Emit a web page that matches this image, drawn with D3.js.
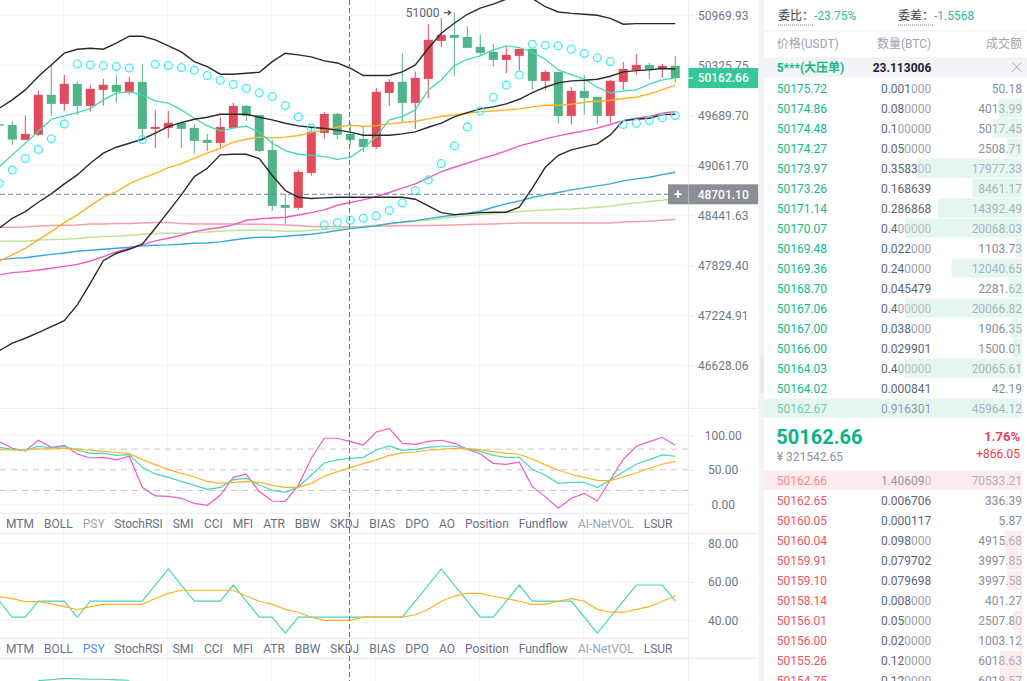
<!DOCTYPE html>
<html><head><meta charset="utf-8">
<script src="https://cdn.jsdelivr.net/npm/d3@7/dist/d3.min.js"></script>
<style>
html,body{margin:0;padding:0;background:#fff;overflow:hidden}
svg{display:block;font-family:Roboto,"Noto Sans CJK SC",sans-serif}
</style></head><body><svg id="c" width="1027" height="681"></svg>
<script>
// ---------- candles ----------
const open  =[49577,49568,49380,49443,49949,49834,50089,49809,50012,50076,49987,50114,49518,49531,49594,49531,49380,49342,49531,49809,49694,49254,48570,48533,48967,49468,49707,49455,49393,49292,49974,50114,49847,50152,50639,50717,50691,50562,50498,50395,50447,50536,50127,50241,49682,49999,49923,49682,50114,50267,50330,50279,50318];
const high  =[49585,49619,49686,49999,50343,50203,50118,50076,50152,50203,50178,50343,49754,49745,49615,49577,49455,49669,49847,49821,49694,49380,48703,49004,49527,49733,49720,49594,49548,50033,50152,50481,50245,50858,50936,51004,50828,50721,50600,50566,50536,50536,50262,50241,50046,50203,49923,50140,50369,50472,50356,50343,50447];
const low   =[49552,49317,49380,49430,49686,49745,49694,49733,49813,49851,49953,49401,49279,49401,49275,49204,49241,49279,49527,49619,49229,48496,48323,48508,48930,49397,49388,49313,49225,49262,49809,49602,49518,49906,50558,50186,50549,50459,50309,50224,50267,50012,50012,49589,49573,49694,49581,49598,50012,50203,50152,50165,50106];
const close =[49560,49384,49455,49949,49834,50089,49809,50025,50076,49987,50114,49518,49543,49594,49518,49367,49342,49543,49809,49682,49241,48558,48533,48979,49481,49707,49443,49380,49292,49987,50114,49847,50165,50652,50717,50678,50549,50485,50395,50459,50536,50127,50241,49682,49999,49910,49682,50127,50279,50330,50267,50318,50162.66];
// ---------- overlays ----------
const bollUp =[49779,49885,50012,50182,50330,50481,50532,50545,50532,50609,50699,50699,50652,50575,50498,50373,50309,50212,50212,50224,50237,50373,50481,50459,50433,50382,50356,50288,50195,50195,50195,50241,50330,50545,50738,50867,50983,51064,51116,51180,51231,51188,51081,51013,50995,50983,50970,50931,50854,50862,50862,50862,50862];
const bollMid=[48282,48405,48487,48603,48706,48830,48942,49087,49213,49288,49338,49388,49464,49548,49598,49640,49665,49703,49703,49703,49665,49632,49590,49556,49539,49523,49502,49477,49439,49439,49439,49456,49481,49539,49590,49669,49724,49771,49796,49834,49893,49978,50046,50101,50127,50135,50148,50186,50241,50258,50267,50284,50279];
const bollLow=[46803,46891,46950,47018,47090,47161,47350,47611,47886,47976,48025,48086,48282,48487,48694,48921,49024,49192,49200,49200,49146,48934,48748,48665,48649,48657,48665,48665,48665,48665,48665,48665,48640,48558,48475,48450,48459,48475,48479,48479,48541,48777,49037,49187,49254,49292,49330,49443,49623,49640,49653,49698,49703];
const maTeal =[49045,49192,49338,49485,49640,49682,49724,49775,49885,49970,49987,49949,49872,49843,49758,49653,49556,49493,49527,49552,49477,49338,49246,49200,49187,49171,49137,49162,49275,49422,49632,49674,49758,50012,50139,50322,50403,50446,50523,50575,50554,50493,50403,50267,50207,50148,50046,49974,49995,50012,50084,50139,50165];
const maOrange=[47882,47955,48037,48139,48241,48352,48446,48558,48665,48735,48830,48901,48962,49033,49079,49150,49213,49275,49351,49388,49414,49405,49414,49435,49472,49506,49539,49565,49548,49560,49581,49598,49615,49644,49678,49694,49715,49733,49745,49758,49771,49796,49817,49817,49830,49855,49868,49881,49902,49919,49961,50012,50072];
const maPink =[47712,47740,47752,47773,47793,47817,47841,47882,47935,47992,48037,48078,48127,48160,48196,48241,48270,48291,48323,48380,48397,48409,48417,48446,48475,48508,48566,48599,48632,48673,48723,48777,48830,48905,48983,49037,49087,49141,49187,49242,49305,49347,49393,49430,49464,49493,49527,49573,49623,49653,49674,49715,49737];
const maBlue =[47894,47914,47922,47943,47963,47980,48000,48012,48025,48037,48049,48066,48074,48078,48086,48098,48102,48115,48139,48160,48172,48172,48184,48196,48209,48229,48254,48278,48295,48311,48340,48360,48376,48401,48426,48446,48467,48492,48541,48582,48620,48661,48694,48723,48756,48781,48805,48830,48867,48892,48913,48946,48975];
const maLime =[48123,48123,48123,48139,48143,48147,48156,48172,48180,48184,48196,48209,48217,48221,48221,48233,48237,48246,48254,48258,48258,48254,48246,48246,48258,48266,48282,48291,48303,48323,48336,48352,48368,48385,48405,48421,48438,48450,48463,48475,48487,48500,48508,48516,48520,48529,48541,48553,48578,48595,48611,48628,48649];
const maRed  =[48295,48295,48299,48311,48315,48319,48323,48336,48336,48340,48340,48348,48352,48352,48340,48336,48336,48336,48336,48331,48331,48327,48323,48315,48303,48303,48303,48299,48303,48307,48311,48315,48315,48315,48319,48323,48327,48331,48336,48340,48348,48348,48348,48348,48348,48348,48348,48348,48360,48364,48368,48380,48389];
const sar    =[48839,49004,49146,49259,49393,49581,50343,50330,50322,50309,50292,49384,50339,50322,50296,50262,50195,50135,50080,50029,49974,49927,49813,49669,49531,48323,48352,48380,48405,48434,48500,48595,48744,48880,49083,49305,49543,49745,49919,50072,50203,50596,50584,50575,50532,50476,50421,50373,49573,49590,49623,49657,49686];
const lastPrice=50162.66, crossPrice=48701.10, crossIndex=27;
const priceTicks=[50969.93,50325.75,49689.70,49061.70,48441.63,47829.40,47224.91,46628.06];
const priceTickLabels=["50969.93","50325.75","49689.70","49061.70","48441.63","47829.40","47224.91","46628.06"];
// ---------- KDJ-like panel ----------
const kLine=[82.6,79.7,77.8,84.1,81.6,83.6,78.7,73.9,73.9,71.0,72.0,53.6,44.0,39.1,33.3,27.5,21.7,24.6,35.7,37.7,28.0,20.3,17.4,25.1,42.5,59.9,64.3,66.7,68.1,78.7,84.5,78.3,79.7,82.6,84.1,84.1,80.2,76.8,71.0,68.1,68.1,50.7,42.0,30.4,31.9,31.9,24.2,35.3,47.3,58.0,64.7,71.5,69.6];
const dLine=[79.2,78.7,78.7,80.2,80.2,81.2,80.2,78.3,76.8,75.4,73.4,64.7,57.5,50.7,44.9,39.6,33.3,30.4,31.9,33.3,31.9,27.5,24.6,24.6,30.4,40.6,47.3,53.1,58.9,64.3,71.0,74.4,75.8,78.7,79.7,81.2,80.7,79.2,76.3,73.9,72.5,65.2,57.5,49.3,43.5,39.1,34.8,34.3,39.6,45.4,52.2,58.0,62.3];
const jLine=[90.8,81.2,77.3,92.8,82.6,85.5,72.9,67.1,68.1,64.3,69.6,24.6,12.1,11.6,8.7,1.4,-1.4,13.0,39.1,43.5,18.4,4.8,4.3,27.5,66.7,95.7,95.7,90.8,86.0,104.8,110.1,88.4,87.0,91.3,92.8,88.4,79.7,72.9,59.4,58.0,60.9,25.6,11.1,-5.8,8.7,15.9,4.8,35.3,65.2,84.1,90.8,97.1,85.5];
const kdjTicks=[100,50,0], kdjLevels=[80,50,20];
// ---------- PSY panel ----------
const psyLine=[50,41.67,41.67,50,50,50,41.67,50,50,50,50,50,58.33,66.67,58.33,50,50,50,58.33,50,41.67,41.67,33.33,41.67,41.67,41.67,41.67,41.67,41.67,41.67,41.67,41.67,50,58.33,66.67,58.33,50,41.67,41.67,50,58.33,50,50,50,50,41.67,33.33,41.67,50,58.33,58.33,58.33,50];
const psyMa=[52.3,51.3,49.7,49.7,48.5,47.1,45.5,47.1,48.3,48.3,48.3,48.3,51.3,54.0,55.6,55.6,55.6,55.6,55.6,52.6,49.9,48.3,45.7,44.2,41.6,40,40,40,41.6,41.6,41.6,41.6,42.9,45.7,49.9,52.6,54.0,54.0,52.5,51.3,49.9,48.3,48.3,49.9,51.3,49.9,45.7,44.2,44.2,45.7,47.1,49.9,52.6];
const psyTicks=[80,60,40];
const thirdIdx=[3,4,5,6,7,8,9,10], thirdLine=[73.6,74.1,74.8,74.5,74.3,74.3,74.0,73.8];
// ---------- tabs ----------
const tabNames=["MTM","BOLL","PSY","StochRSI","SMI","CCI","MFI","ATR","BBW","SKDJ","BIAS","DPO","AO","Position","Fundflow","AI-NetVOL","LSUR"];
const tabLeft=[6,44,82.7,114.3,172.7,204,232.7,263.3,294.7,330,369.3,405.3,439,465,518.7,578,643.7];
// ---------- order book ----------
const bidPrice=["50175.72","50174.86","50174.48","50174.27","50173.97","50173.26","50171.14","50170.07","50169.48","50169.36","50168.70","50167.06","50167.00","50166.00","50164.03","50164.02","50162.67"];
const bidQty=["0.001000","0.080000","0.100000","0.050000","0.358300","0.168639","0.286868","0.400000","0.022000","0.240000","0.045479","0.400000","0.038000","0.029901","0.400000","0.000841","0.916301"];
const bidAmt=["50.18","4013.99","5017.45","2508.71","17977.33","8461.17","14392.49","20068.03","1103.73","12040.65","2281.62","20066.82","1906.35","1500.01","20065.61","42.19","45964.12"];
const askPrice=["50162.66","50162.65","50160.05","50160.04","50159.91","50159.10","50158.14","50156.01","50156.00","50155.26","50154.75"];
const askQty=["1.406090","0.006706","0.000117","0.098000","0.079702","0.079698","0.008000","0.050000","0.020000","0.120000","0.120000"];
const askAmt=["70533.21","336.39","5.87","4915.68","3997.85","3997.58","401.27","2507.80","1003.12","6018.63","6018.57"];

const svg=d3.select("#c");
const defs=svg.append("defs");
defs.append("clipPath").attr("id","cMain").append("rect").attr("x",0).attr("y",0).attr("width",688).attr("height",408);
defs.append("clipPath").attr("id","cAll").append("rect").attr("x",0).attr("y",0).attr("width",688).attr("height",681);

const n=open.length, idx=d3.range(n);
const x=d3.scaleLinear().domain([0,52]).range([-0.7,675.3]);
const y=d3.scaleLog().domain([46628.06,50969.93]).range([365.3,15.3]);
const y1=d3.scaleLinear().domain([0,100]).range([504.3,435.3]);
const y2=d3.scaleLinear().domain([40,80]).range([620.3,543.3]);
const y3=d3.scaleLinear().domain([40,80]).range([745.3,668.3]);

const C={grid:"#f3f4f7",border:"#e6e8ee",axisText:"#707787",up:"#e24b5c",down:"#50b488",teal:"#45d8b6",orange:"#fdb225",black:"#2a2a2a",pink:"#ec5cc0",blue:"#38a9de",lime:"#bce498",salmon:"#f7a0a0",cyan:"#3df0f6",cross:"#68707c"};

// grids
const grid=svg.append("g");
grid.selectAll(".v").data(idx.filter(i=>i%8===5)).join("line")
  .attr("x1",i=>x(i)-0.8).attr("x2",i=>x(i)-0.8).attr("y1",0).attr("y2",681).attr("stroke",C.grid);
grid.selectAll(".h").data(priceTicks).join("line").attr("class","h")
  .attr("x1",0).attr("x2",688).attr("y1",d=>y(d)).attr("y2",d=>y(d)).attr("stroke",C.grid);
grid.selectAll(".h1").data([100,0]).join("line").attr("class","h1")
  .attr("x1",0).attr("x2",688).attr("y1",d=>y1(d)).attr("y2",d=>y1(d)).attr("stroke",C.grid);
grid.selectAll(".h2").data(psyTicks).join("line").attr("class","h2")
  .attr("x1",0).attr("x2",688).attr("y1",d=>y2(d)).attr("y2",d=>y2(d)).attr("stroke",C.grid);

// candles
const main=svg.append("g").attr("clip-path","url(#cMain)");
const col=i=>close[i]>=open[i]?C.up:C.down;
main.selectAll(".wick").data(idx).join("line").attr("class","wick")
  .attr("x1",i=>x(i)).attr("x2",i=>x(i)).attr("y1",i=>y(high[i])).attr("y2",i=>y(low[i])).attr("stroke",col).attr("stroke-width",1);
main.selectAll(".body").data(idx).join("rect").attr("class","body")
  .attr("x",i=>x(i)-4.5).attr("width",9)
  .attr("y",i=>y(Math.max(open[i],close[i])))
  .attr("height",i=>Math.max(1,Math.abs(y(open[i])-y(close[i])))).attr("fill",col);

// overlays
const lineOf=(ys,sc)=>d3.line().x((d,i)=>x(i)).y(d=>sc(d))(ys);
[[maRed,C.salmon,1.5],[maLime,C.lime,1.5],[maBlue,C.blue,1.4],[maPink,C.pink,1.4],[maOrange,C.orange,1.4],[maTeal,C.teal,1.3],[bollUp,C.black,1.4],[bollMid,C.black,1.4],[bollLow,C.black,1.4]]
.forEach(([d,c,w])=>main.append("path").attr("d",lineOf(d,y)).attr("fill","none").attr("stroke",c).attr("stroke-width",w));
main.selectAll(".sar").data(sar).join("circle").attr("class","sar")
  .attr("cx",(d,i)=>x(i)).attr("cy",d=>y(d)).attr("r",3.9).attr("fill","none").attr("stroke",C.cyan).attr("stroke-width",1.3);

// annotation
svg.append("text").attr("x",405.7).attr("y",17).attr("font-size",12).attr("fill","#5b6270").text("51000");
svg.append("path").attr("d","M443.7,12.8H450.6M447.8,10.4L450.6,12.8L447.8,15.2").attr("fill","none").attr("stroke","#3c4048").attr("stroke-width",1.1);

// panel 1
const p=svg.append("g").attr("clip-path","url(#cAll)");
p.selectAll(".lvl").data(kdjLevels).join("line").attr("class","lvl")
  .attr("x1",0).attr("x2",688).attr("y1",d=>y1(d)).attr("y2",d=>y1(d)).attr("stroke","#c6c6c6").attr("stroke-dasharray","6,5");
[[jLine,C.pink],[kLine,C.teal],[dLine,C.orange]].forEach(([d,c])=>p.append("path").attr("d",lineOf(d,y1)).attr("fill","none").attr("stroke",c).attr("stroke-width",1.2));
// panel 2
[[psyLine,C.teal],[psyMa,C.orange]].forEach(([d,c])=>p.append("path").attr("d",lineOf(d,y2)).attr("fill","none").attr("stroke",c).attr("stroke-width",1.2));
// panel 3
p.append("path").attr("d",d3.line().x((d,i)=>x(thirdIdx[i])).y(d=>y3(d))(thirdLine)).attr("fill","none").attr("stroke",C.teal).attr("stroke-width",1.2);

// borders
[[408.3,758],[513.3,688],[533.3,758],[638.3,688],[658.3,758]].forEach(([yy,xe])=>svg.append("line").attr("x1",0).attr("x2",xe).attr("y1",yy).attr("y2",yy).attr("stroke",C.border));
svg.append("line").attr("x1",688.4).attr("x2",688.4).attr("y1",0).attr("y2",681).attr("stroke",C.border);

// tabs
[[523.7,"#9ea4b0"],[648.7,"#4c8ef7"]].forEach(([yy,psyCol])=>{
  svg.append("g").selectAll("text").data(tabNames).join("text")
    .attr("x",(d,i)=>tabLeft[i]).attr("y",yy+4.2).attr("font-size",12)
    .attr("fill",d=>d==="PSY"?psyCol:(d==="AI-NetVOL"?"#9ea4b0":"#69707f")).text(d=>d);
});

// axes
function axis(sc,vals,fmt){
  const g=svg.append("g").attr("transform","translate(688.4,0)").call(d3.axisRight(sc).tickValues(vals).tickFormat(fmt).tickSize(5).tickPadding(0));
  g.select(".domain").remove();
  g.selectAll("line").attr("stroke",C.border);
  g.selectAll("text").attr("x",34.8).attr("text-anchor","middle").attr("font-size",12).attr("font-family","Roboto").attr("fill",C.axisText);
}
axis(y,priceTicks,(d,i)=>priceTickLabels[i]);
axis(y1,kdjTicks,d3.format(".2f"));
axis(y2,psyTicks,d3.format(".2f"));

// crosshair
svg.append("line").attr("x1",x(crossIndex)-0.8).attr("x2",x(crossIndex)-0.8).attr("y1",0).attr("y2",681).attr("stroke",C.cross).attr("stroke-dasharray","5,3");
svg.append("line").attr("x1",0).attr("x2",688).attr("y1",y(crossPrice)).attr("y2",y(crossPrice)).attr("stroke","#6c8298").attr("stroke-dasharray","5,3");

// price tags
function tag(price,fill){
  const yy=y(price);
  svg.append("rect").attr("x",688.4).attr("width",70).attr("y",yy-10).attr("height",20).attr("fill",fill);
  svg.append("text").attr("x",723.2).attr("y",yy+4.3).attr("text-anchor","middle").attr("font-size",12).attr("font-weight",500).attr("fill","#fff").text(price.toFixed(2));
}
tag(lastPrice,"#34c79b");
svg.append("line").attr("x1",688).attr("x2",693).attr("y1",y(lastPrice)).attr("y2",y(lastPrice)).attr("stroke","#fff");
tag(crossPrice,"#8b8e97");
svg.append("rect").attr("x",668).attr("width",20).attr("y",y(crossPrice)-10).attr("height",20).attr("fill","#8b8e97");
svg.append("text").attr("x",678).attr("y",y(crossPrice)+5).attr("text-anchor","middle").attr("font-size",15).attr("font-weight",500).attr("fill","#fff").text("+");

// ---------- right side ----------
svg.append("rect").attr("x",758.4).attr("y",0).attr("width",5.6).attr("height",681).attr("fill","#f2f3f7");
svg.append("rect").attr("x",760).attr("y",356).attr("width",4).attr("height",38).attr("fill","#e7e9ee");
svg.append("rect").attr("x",764).attr("y",30).attr("width",263).attr("height",1.5).attr("fill","#f1f2f5");

const t=(xx,yy,s,o={})=>svg.append("text").attr("x",xx).attr("y",yy).attr("font-size",o.size||12)
  .attr("font-weight",o.w||400).attr("text-anchor",o.a||"start").attr("fill",o.c||"#444").text(s);
t(778,20,"委比：",{c:"#3a3f4b"}); t(814,20,"-23.75%",{c:"#2bbd96"});
t(898,20,"委差：",{c:"#3a3f4b"}); t(934,20,"-1.5568",{c:"#2bbd96"});
[[778,814],[898,934]].forEach(([a,b])=>svg.append("line").attr("x1",a).attr("x2",b).attr("y1",25).attr("y2",25).attr("stroke","#777").attr("stroke-dasharray","1,1"));
t(776.7,48,"价格(USDT)",{c:"#9ea4b0"}); t(931.3,48,"数量(BTC)",{a:"end",c:"#9ea4b0"}); t(1022,48,"成交额",{a:"end",c:"#9ea4b0"});

svg.append("rect").attr("x",764).attr("y",57.3).attr("width",263).attr("height",20).attr("fill","#f1f3f6");
t(776.7,71.5,"5***(大压单)",{c:"#0fb985",w:700}); t(931.3,71.5,"23.113006",{a:"end",c:"#1a2438",w:700});
svg.append("path").attr("d","M1012.3,62.6L1021.2,71.6M1021.2,62.6L1012.3,71.6").attr("stroke","#9aa0ab").attr("stroke-width",0.9).attr("fill","none");

function book(prices,qtys,amts,y0,barScale,barFill,priceCol,tint){
  const rowY=d3.scaleLinear().domain([0,1]).range([y0,y0+20]);
  const g=svg.append("g");
  const wid=(d,i)=>barScale(+amts[i]);
  g.selectAll(".b").data(prices).join("rect").attr("class","b").attr("x",(d,i)=>1022-wid(d,i)).attr("width",wid)
    .attr("y",(d,i)=>rowY(i)-9.7).attr("height",19).attr("fill",barFill);
  g.selectAll(".p").data(prices).join("text").attr("class","p").attr("x",776.7).attr("y",(d,i)=>rowY(i)+4.2).attr("font-size",12).attr("fill",priceCol).text(d=>d);
  const q=g.selectAll(".q").data(qtys).join("text").attr("class","q").attr("x",931.3).attr("y",(d,i)=>rowY(i)+4.2).attr("font-size",12).attr("text-anchor","end");
  q.append("tspan").attr("fill","#5d6679").text(d=>d.replace(/0+$/,""));
  q.append("tspan").attr("fill","#9aa1ae").text(d=>(d.match(/0+$/)||[""])[0]);
  g.selectAll(".a").data(amts).join("text").attr("class","a").attr("x",1022).attr("y",(d,i)=>rowY(i)+4.2).attr("font-size",12).attr("text-anchor","end").attr("fill","#878e9c").text(d=>d);
  g.selectAll(".o").data(prices).join("rect").attr("class","o").attr("x",(d,i)=>1022-wid(d,i)).attr("width",wid)
    .attr("y",(d,i)=>rowY(i)-9.7).attr("height",19).attr("fill",barFill).attr("fill-opacity",tint);
}
const bidBar=d3.scaleLinear().domain([0,44200]).range([0,258]).clamp(true);
const askBar=d3.scaleLinear().domain([0,70533.21]).range([0,258]);
book(bidPrice,bidQty,bidAmt,88.3,bidBar,"#e5f6f1","#12bb8a",.35);
book(askPrice,askQty,askAmt,480.7,askBar,"#fdecee","#f5535f",.35);

t(776.3,443.6,"50162.66",{size:20,w:700,c:"#07b583"});
t(776.7,461,"¥ 321542.65",{c:"#8d94a1"});
t(1020,441,"1.76%",{a:"end",c:"#ee3f50",w:700,size:13});
t(1020,457.5,"+866.05",{a:"end",c:"#ee3f50"});
</script></body></html>
